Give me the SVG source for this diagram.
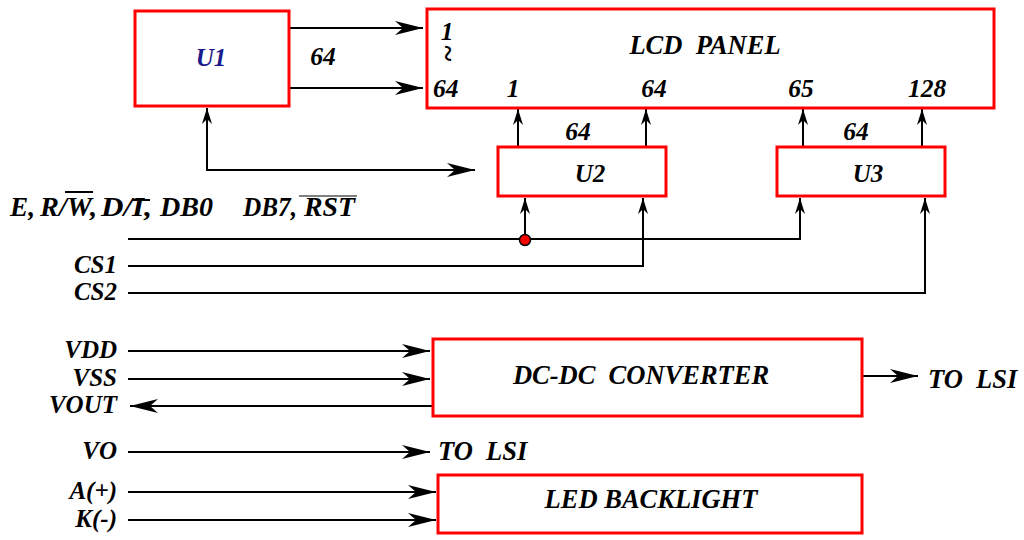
<svg xmlns="http://www.w3.org/2000/svg" width="1024" height="540" viewBox="0 0 1024 540">
<defs>
<style>
.box{fill:#fff;stroke:#ff0000;stroke-width:3}
.ln{fill:none;stroke:#000;stroke-width:2}
.t{font-family:"Liberation Serif","Times New Roman",serif;font-weight:bold;font-style:italic;font-size:25px;fill:#000}
.h{font-size:26.5px}
.n{font-size:25.5px}
.m{text-anchor:middle}
.e{text-anchor:end}
.ov{stroke:#000;stroke-width:2}
</style>
<marker id="ah" viewBox="0 0 28 14" refX="28" refY="7" markerWidth="28" markerHeight="14" markerUnits="userSpaceOnUse" orient="auto">
<path d="M0,0 L28,7 L0,14 L8,7 Z" fill="#000"/>
</marker>
<marker id="as" viewBox="0 0 16 10" refX="16" refY="5" markerWidth="16" markerHeight="10" markerUnits="userSpaceOnUse" orient="auto">
<path d="M0,0 L16,5 L0,10 L5,5 Z" fill="#000"/>
</marker>
</defs>
<rect width="1024" height="540" fill="#fff"/>

<g id="connectors">
<line class="ln" x1="289" y1="28" x2="423" y2="28" marker-end="url(#ah)"/>
<line class="ln" x1="289" y1="88" x2="423" y2="88" marker-end="url(#ah)"/>
<path class="ln" d="M475,170 H207 V108" marker-end="url(#as)"/>
<line class="ln" x1="207" y1="170" x2="475" y2="170" marker-end="url(#ah)"/>
<line class="ln" x1="518" y1="147" x2="518" y2="109" marker-end="url(#as)"/>
<line class="ln" x1="646" y1="147" x2="646" y2="109" marker-end="url(#as)"/>
<line class="ln" x1="803" y1="147" x2="803" y2="109" marker-end="url(#as)"/>
<line class="ln" x1="922" y1="147" x2="922" y2="109" marker-end="url(#as)"/>
<path class="ln" d="M128,239 H800 V198" marker-end="url(#as)"/>
<line class="ln" x1="525" y1="239" x2="525" y2="198" marker-end="url(#as)"/>
<path class="ln" d="M128,266 H643 V198" marker-end="url(#as)"/>
<path class="ln" d="M128,293 H925 V198" marker-end="url(#as)"/>
<circle cx="525" cy="240" r="5.5" fill="#ff0000" stroke="#000" stroke-width="1.5"/>
<line class="ln" x1="128" y1="351" x2="430" y2="351" marker-end="url(#ah)"/>
<line class="ln" x1="128" y1="379" x2="430" y2="379" marker-end="url(#ah)"/>
<line class="ln" x1="433" y1="406" x2="130" y2="406" marker-end="url(#ah)"/>
<line class="ln" x1="863" y1="376" x2="918" y2="376" marker-end="url(#ah)"/>
<line class="ln" x1="128" y1="452" x2="430" y2="452" marker-end="url(#ah)"/>
<line class="ln" x1="128" y1="492" x2="436" y2="492" marker-end="url(#ah)"/>
<line class="ln" x1="128" y1="520" x2="436" y2="520" marker-end="url(#ah)"/>
</g>

<g id="u1">
<rect class="box" x="135" y="11" width="154" height="95"/>
<text class="t m" x="211" y="66" style="fill:#1a1a8c;font-size:25px">U1</text>
</g>

<g id="lcd-panel">
<rect class="box" x="427" y="9" width="567" height="99"/>
<text class="t n m" x="447" y="40">1</text>
<text class="t m" x="446" y="61" transform="rotate(90 446 53)" style="font-size:30px">~</text>
<text class="t n" x="433" y="97">64</text>
<text class="t n m" x="513" y="97">1</text>
<text class="t n m" x="654" y="97">64</text>
<text class="t n m" x="801" y="97">65</text>
<text class="t n m" x="927" y="97">128</text>
<text class="t h m" x="705" y="54" xml:space="preserve">LCD  PANEL</text>
</g>

<g id="u2">
<rect class="box" x="498" y="147" width="168" height="49"/>
<text class="t m" x="590" y="182">U2</text>
</g>

<g id="u3">
<rect class="box" x="777" y="147" width="168" height="49"/>
<text class="t m" x="868" y="182">U3</text>
</g>

<g id="labels">
<text class="t n m" x="323" y="65">64</text>
<text class="t n m" x="578" y="140">64</text>
<text class="t n m" x="856" y="140">64</text>
<text class="t h" y="216"><tspan x="10" textLength="25" lengthAdjust="spacingAndGlyphs">E,</tspan><tspan x="40" textLength="57" lengthAdjust="spacingAndGlyphs">R/W,</tspan><tspan x="101" textLength="51" lengthAdjust="spacingAndGlyphs">D/I,</tspan><tspan x="160" textLength="53" lengthAdjust="spacingAndGlyphs">DB0</tspan><tspan x="243" textLength="54" lengthAdjust="spacingAndGlyphs">DB7,</tspan><tspan x="304" textLength="51" lengthAdjust="spacingAndGlyphs">RST</tspan></text>
<line class="ov" x1="65" y1="192" x2="93" y2="192"/>
<line class="ov" x1="132" y1="200" x2="150" y2="200"/>
<line class="ov" x1="299" y1="196" x2="357" y2="196" style="stroke-width:1"/>
<text class="t e" x="117" y="273">CS1</text>
<text class="t e" x="117" y="300">CS2</text>
<text class="t e" x="117" y="358">VDD</text>
<text class="t e" x="117" y="386">VSS</text>
<text class="t e" x="117" y="413">VOUT</text>
<text class="t e" x="117" y="459">VO</text>
<text class="t e" x="117" y="499">A(+)</text>
<text class="t e" x="117" y="527">K(-)</text>
<text class="t h" x="438" y="460" xml:space="preserve">TO  LSI</text>
<text class="t h" x="928" y="388" xml:space="preserve">TO  LSI</text>
</g>

<g id="dc-dc-converter">
<rect class="box" x="433" y="339" width="429" height="77"/>
<text class="t h m" x="641" y="384" xml:space="preserve">DC-DC  CONVERTER</text>
</g>

<g id="led-backlight">
<rect class="box" x="438" y="475" width="424" height="58"/>
<text class="t h m" x="651" y="508">LED BACKLIGHT</text>
</g>
</svg>
